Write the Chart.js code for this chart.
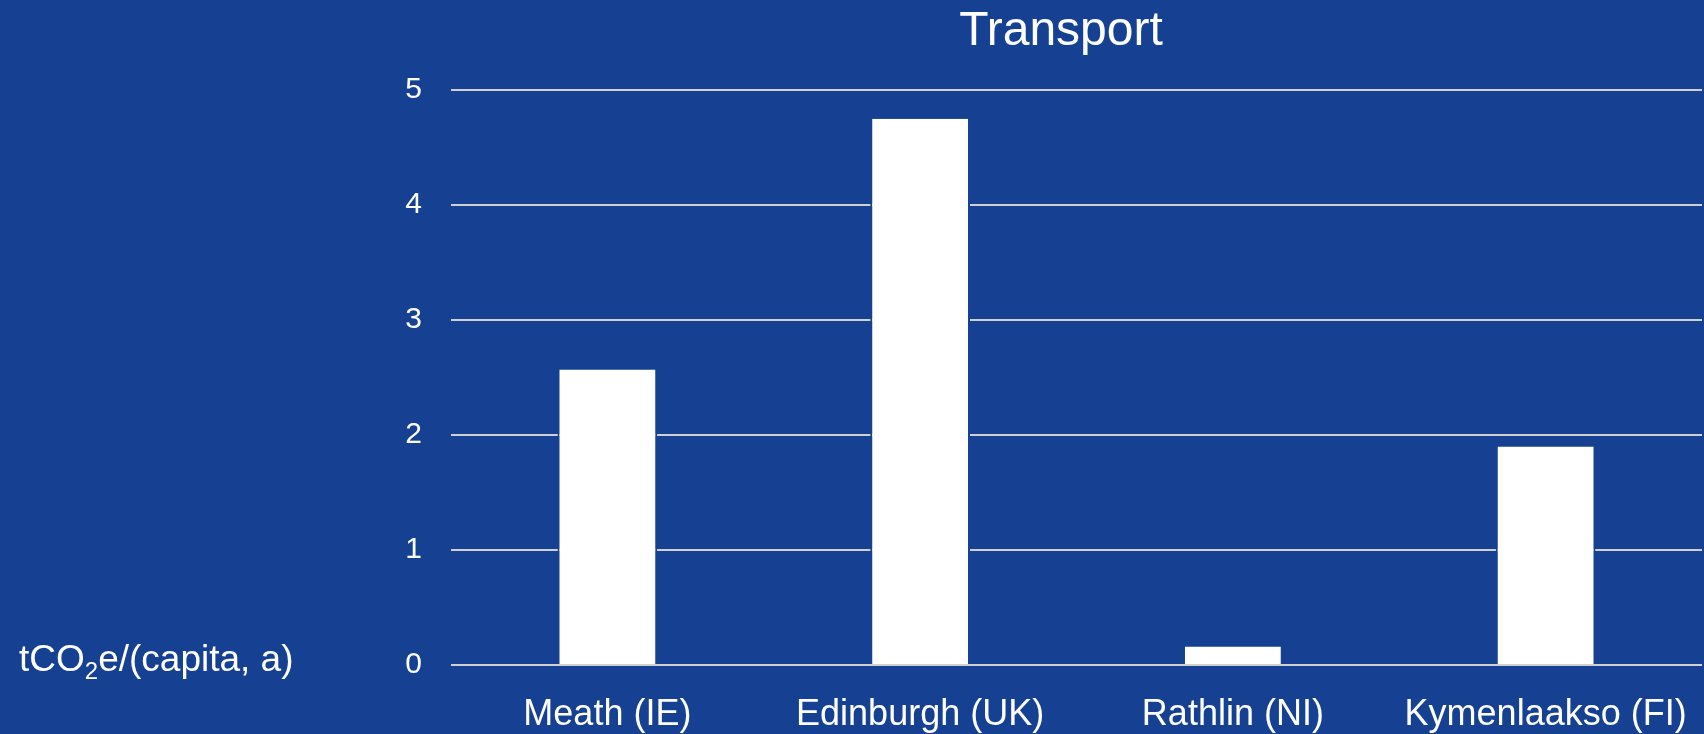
<!DOCTYPE html>
<html>
<head>
<meta charset="utf-8">
<script src="https://cdn.jsdelivr.net/npm/chart.js@4"></script>
<style>
  html, body { margin: 0; padding: 0; background: #164193; }
  canvas { display: block; }
</style>
</head>
<body>
<canvas id="chart" width="1704" height="734"></canvas>
<script>
const CATEGORIES = ['Meath (IE)', 'Edinburgh (UK)', 'Rathlin (NI)', 'Kymenlaakso (FI)'];
const TRANSPORT_VALUES = [2.57, 4.75, 0.16, 1.9];
const Y_MIN = 0;
const Y_MAX = 5;
const Y_STEP = 1;
const TITLE = 'Transport';

const BG = '#164193';
const FONT = "'Liberation Sans', Arial, sans-serif";

// title and the horizontal unit label are drawn by hand
const labelsPlugin = {
  id: 'labels',
  beforeDraw: (chart) => {
    let ctx = chart.ctx;
    ctx.save();
    ctx.fillStyle = BG;
    ctx.fillRect(0, 0, chart.width, chart.height);
    ctx.restore();
  },
  afterDraw: (chart) => {
    let ctx = chart.ctx;
    ctx.save();
    ctx.fillStyle = '#ffffff';
    ctx.textBaseline = 'alphabetic';

    ctx.font = '48px ' + FONT;
    ctx.textAlign = 'center';
    ctx.fillText(TITLE, 1061, 45);

    // tCO2e/(capita, a) with subscript 2
    ctx.textAlign = 'left';
    let x = 19;
    let y = 671;
    ctx.font = '37px ' + FONT;
    ctx.fillText('tCO', x, y);
    x += ctx.measureText('tCO').width;
    ctx.font = '24px ' + FONT;
    ctx.fillText('2', x, y + 8);
    x += ctx.measureText('2').width;
    ctx.font = '37px ' + FONT;
    ctx.fillText('e/(capita, a)', x, y);
    ctx.restore();
  },
};

document.addEventListener('DOMContentLoaded', () => {
  let el = document.getElementById('chart');
  new Chart(el, {
    type: 'bar',
    data: {
      labels: CATEGORIES,
      datasets: [
        {
          label: TITLE,
          data: TRANSPORT_VALUES,
          backgroundColor: '#ffffff',
          borderColor: BG,
          borderWidth: { left: 2, right: 2, top: 0, bottom: 0 },
          borderSkipped: false,
          categoryPercentage: 1,
          barPercentage: 0.319,
        },
      ],
    },
    options: {
      responsive: false,
      devicePixelRatio: 1,
      animation: false,
      layout: { padding: { left: 0, right: 2, top: 90, bottom: 0 } },
      plugins: {
        legend: { display: false },
        title: { display: false },
        tooltip: { enabled: false },
      },
      scales: {
        x: {
          grid: { display: false },
          border: { display: false },
          ticks: {
            color: '#ffffff',
            font: { family: FONT, size: 36 },
            padding: 20,
            maxRotation: 0,
            autoSkip: false,
          },
          afterFit: (scale) => {
            scale.height = 69;
            scale.paddingLeft = 0;
            scale.paddingRight = 0;
          },
        },
        y: {
          min: Y_MIN,
          max: Y_MAX,
          grid: { color: '#d0d0d0', lineWidth: 2, drawTicks: false },
          border: { display: false },
          ticks: {
            stepSize: Y_STEP,
            color: '#ffffff',
            font: { family: FONT, size: 30 },
            padding: 29,
          },
          afterFit: (scale) => {
            scale.width = 451;
          },
        },
      },
    },
    plugins: [labelsPlugin],
  });
});
</script>
</body>
</html>
